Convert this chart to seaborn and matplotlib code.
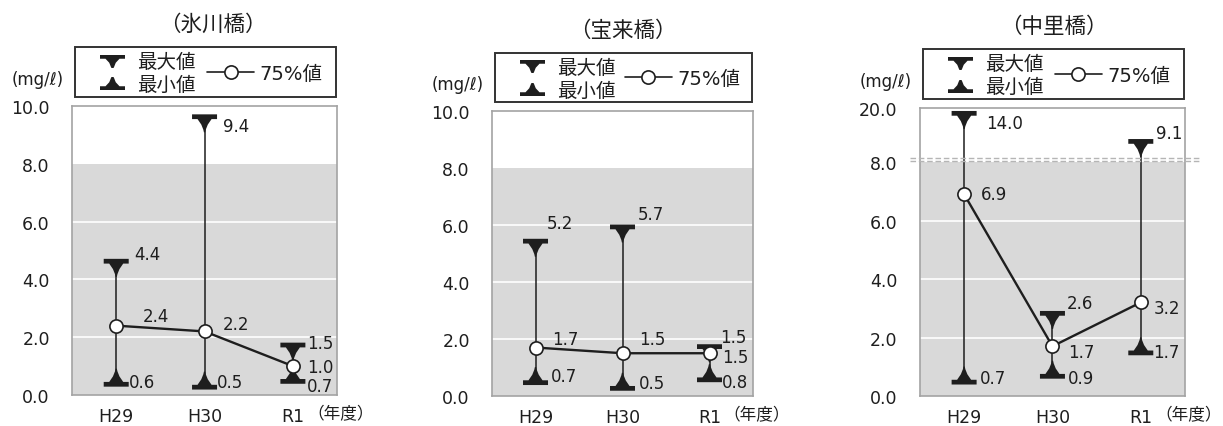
import numpy as np
import pandas as pd
import matplotlib
matplotlib.use('Agg')
import matplotlib.pyplot as plt
import seaborn as sns
from matplotlib.path import Path
from matplotlib.lines import Line2D
from matplotlib.patches import Rectangle

# データ
years = ['H29', 'H30', 'R1']
sites = ['（氷川橋）', '（宝来橋）', '（中里橋）']

hikawa_max = [4.4, 9.4, 1.5]
hikawa_min = [0.6, 0.5, 0.7]
hikawa_p75 = [2.4, 2.2, 1.0]

horai_max = [5.2, 5.7, 1.5]
horai_min = [0.7, 0.5, 0.8]
horai_p75 = [1.7, 1.5, 1.5]

nakazato_max = [14.0, 2.6, 9.1]
nakazato_min = [0.7, 0.9, 1.7]
nakazato_p75 = [6.9, 1.7, 3.2]

ticks_normal = [0, 2, 4, 6, 8, 10]
ticks_broken = [0, 2, 4, 6, 8, 20]

# 中里橋の省略軸 (8以上を圧縮)
BREAK_DATA = [0, 8, 9, 14, 20]
BREAK_DISP = [0, 8, 8.46, 9.44, 9.85]

INK = '#1e1e1e'
GRAY = '#d9d9d9'
FRAME = '#a3a3a3'

sns.set_theme(style='white')
plt.rcParams['font.family'] = ['DejaVu Sans', 'Noto Sans CJK JP']
plt.rcParams['text.color'] = INK
plt.rcParams['xtick.color'] = INK
plt.rcParams['ytick.color'] = INK


def cap_marker(up=False, bar=0.38, h=0.72):
    # 横棒 + 三角 (最大値は下向き、最小値は上向き)
    top = h - bar
    v = [(-1, h), (1, h), (1, top), (0.56, top), (0.26, -0.1),
         (0.1, -0.5), (0.05, -h), (-0.05, -h), (-0.1, -0.5),
         (-0.26, -0.1), (-0.56, top), (-1, top)]
    if up:
        v = [(x, -y) for x, y in v]
    v = v + [v[0]]
    codes = [Path.MOVETO] + [Path.LINETO] * (len(v) - 2) + [Path.CLOSEPOLY]
    return Path(v, codes)


MAX_MARK = cap_marker(up=False)
MIN_MARK = cap_marker(up=True)
# 凡例用は少し低い形
MAX_LEG = cap_marker(up=False, bar=0.3, h=0.52)
MIN_LEG = cap_marker(up=True, bar=0.3, h=0.52)

panels = [
    (hikawa_max, hikawa_min, hikawa_p75),
    (horai_max, horai_min, horai_p75),
    (nakazato_max, nakazato_min, nakazato_p75),
]

axes_rects = [(0.0589, 0.0726, 0.2167, 0.6768),
              (0.4023, 0.0703, 0.2134, 0.6674),
              (0.7522, 0.0703, 0.2167, 0.6745)]
title_x = [0.53, 0.50, 0.506]

# 数値ラベルのずらし量 (pt)
off_max = [[(13, 10), (13, -2), (10, 6)],
           [(8, 18), (11, 14), (8, 12)],
           [(16, -2), (10, 12), (11, 11)]]
off_min = [[(9, -3), (9, -1), (10, -8)],
           [(11, 0), (12, -1), (9, -6)],
           [(11, -2), (11, -6), (9, -4)]]
off_p75 = [[(19, 7), (13, 5), (10, -1)],
           [(12, 6), (12, 10), (9, -3)],
           [(12, 0), (11, -4), (9, -4)]]

fig = plt.figure(figsize=(12.23, 4.27), dpi=100)

for i, (mx, mn, p75) in enumerate(panels):
    ax = fig.add_axes(axes_rects[i])
    df = pd.DataFrame({'pos': np.arange(len(years)), 'max': mx, 'min': mn, 'p75': p75})

    broken = (i == 2)
    if broken:
        fwd = lambda y: np.interp(y, BREAK_DATA, BREAK_DISP)
        inv = lambda d: np.interp(d, BREAK_DISP, BREAK_DATA)
        ax.set_yscale('function', functions=(fwd, inv))
        ax.set_ylim(0, 20)
        ticks = ticks_broken
    else:
        ax.set_ylim(0, 10)
        ticks = ticks_normal

    # 背景 (8以下を灰色)
    ax.axhspan(0, 8, color=GRAY, lw=0, zorder=0.2)
    for t in [2, 4, 6]:
        ax.axhline(t, color='white', lw=1.2, zorder=0.3)

    ax.vlines(df['pos'], df['min'], df['max'], color=INK, lw=1.1, zorder=2)
    sns.scatterplot(data=df, x='pos', y='max', marker=MAX_MARK, s=324, color=INK,
                    edgecolor='none', linewidth=0, ax=ax, zorder=3, clip_on=False)
    sns.scatterplot(data=df, x='pos', y='min', marker=MIN_MARK, s=324, color=INK,
                    edgecolor='none', linewidth=0, ax=ax, zorder=3, clip_on=False)
    sns.lineplot(data=df, x='pos', y='p75', color=INK, lw=1.7, marker='o', ms=9.5,
                 mfc='white', mec=INK, mew=1.2, ax=ax, zorder=4)

    for j in range(len(years)):
        ax.annotate(f'{mx[j]:.1f}', (j, mx[j]), xytext=off_max[i][j], textcoords='offset points',
                    ha='left', va='center', fontsize=12)
        ax.annotate(f'{mn[j]:.1f}', (j, mn[j]), xytext=off_min[i][j], textcoords='offset points',
                    ha='left', va='center', fontsize=12)
        ax.annotate(f'{p75[j]:.1f}', (j, p75[j]), xytext=off_p75[i][j], textcoords='offset points',
                    ha='left', va='center', fontsize=12)

    if broken:
        # 省略記号 (二重破線)
        for yb in [8.05, 8.3]:
            ax.plot([-0.038, 1.057], [yb, yb], transform=ax.get_yaxis_transform(),
                    color='#b5b5b5', lw=1, ls=(0, (4, 2)), clip_on=False, zorder=5)

    ax.set_xlim(-0.5, 2.5)
    ax.set_xticks(df['pos'])
    ax.set_xticklabels(years)
    ax.set_yticks(ticks)
    ax.set_yticklabels([f'{t:.1f}' for t in ticks])
    ax.minorticks_off()
    ax.tick_params(axis='y', length=0, pad=16, labelsize=12.5)
    ax.tick_params(axis='x', length=0, pad=9, labelsize=12.5)
    ax.set_xlabel('')
    ax.set_ylabel('')
    for s in ax.spines.values():
        s.set_color(FRAME)
        s.set_linewidth(1.2)

    ax.text(title_x[i], 1.285, sites[i], transform=ax.transAxes, ha='center', va='center',
            fontsize=15.5, family=['Noto Sans CJK JP'])
    ax.text(-0.03, 1.095, '(mg/ℓ)', transform=ax.transAxes, ha='right', va='center', fontsize=12)
    ax.text(1.14, -0.066, '（年度）', transform=ax.transAxes, ha='right', va='center',
            fontsize=12, family=['Noto Sans CJK JP'])

    # 凡例
    h_max = Line2D([], [], ls='none', marker=MAX_LEG, ms=18, color=INK, mew=0)
    h_min = Line2D([], [], ls='none', marker=MIN_LEG, ms=18, color=INK, mew=0)
    h_p75 = Line2D([], [], color=INK, lw=1.2, marker='o', ms=9.5, mfc='white', mec=INK, mew=1.2)
    leg1 = ax.legend([h_max, h_min], ['最大値', '最小値'], loc='center left',
                     bbox_to_anchor=(0.1, 1.113), frameon=False, handlelength=1.4,
                     handletextpad=0.6, labelspacing=0.2, fontsize=14,
                     borderpad=0, borderaxespad=0)
    ax.add_artist(leg1)
    ax.legend([h_p75], ['75%値'], loc='center left', bbox_to_anchor=(0.51, 1.113),
              frameon=False, handlelength=2.4, handletextpad=0.3, fontsize=14,
              borderpad=0, borderaxespad=0)
    ax.add_patch(Rectangle((0.01, 1.03), 0.985, 0.175, transform=ax.transAxes, fill=False,
                           ec='#333333', lw=1.4, clip_on=False))

fig.savefig('out.png', dpi=100)
